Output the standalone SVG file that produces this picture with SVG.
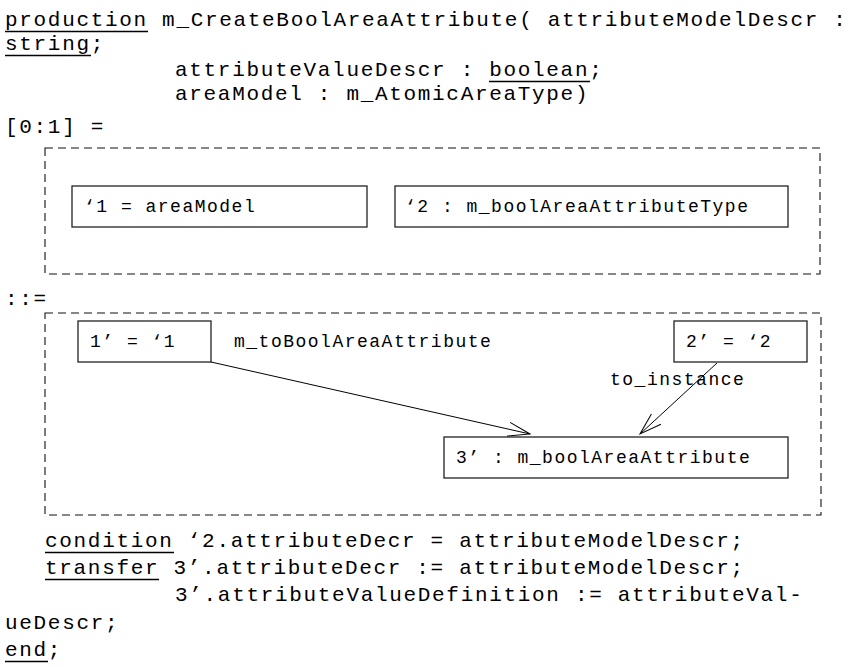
<svg xmlns="http://www.w3.org/2000/svg" width="851" height="667" viewBox="0 0 851 667">
  <style>
    text { font-family: "Liberation Mono", "DejaVu Sans Mono", monospace; fill: #000; }
    .code { font-size: 21px; letter-spacing: 1.68px; }
    .lbl { font-size: 18px; letter-spacing: 1.5px; }
    .frame { fill: none; stroke: #111; stroke-width: 1.1; stroke-dasharray: 8 5; }
    .node rect { fill: #fff; stroke: #222; stroke-width: 1.3; }
    .ul { stroke: #000; stroke-width: 1.3; }
    .edge { fill: none; stroke: #000; stroke-width: 1; marker-end: url(#open); }
  </style>
  <defs>
    <marker id="open" markerUnits="userSpaceOnUse" viewBox="-25 -10 30 20" markerWidth="30" markerHeight="20" refX="0" refY="0" orient="auto">
      <path d="M-22,-7 L0,0 L-22,7" fill="none" stroke="#000" stroke-width="1"/>
    </marker>
  </defs>

  <!-- production header -->
  <g id="header">
    <text class="code" x="5" y="26">production m_CreateBoolAreaAttribute( attributeModelDescr :</text>
    <line class="ul" x1="5" y1="31.5" x2="148" y2="31.5"/>
    <text class="code" x="5" y="50">string;</text>
    <line class="ul" x1="5" y1="55.5" x2="91" y2="55.5"/>
    <text class="code" x="175" y="76">attributeValueDescr : boolean;</text>
    <line class="ul" x1="489" y1="81.5" x2="590" y2="81.5"/>
    <text class="code" x="175" y="100">areaModel : m_AtomicAreaType)</text>
    <text class="code" x="5" y="133">[0:1] =</text>
  </g>

  <!-- left-hand side -->
  <rect class="frame" x="45" y="148" width="775" height="126"/>
  <g id="lhs1" class="node">
    <rect x="72" y="186" width="295" height="41"/>
    <text class="lbl" x="84" y="212">‘1 = areaModel</text>
  </g>
  <g id="lhs2" class="node">
    <rect x="395" y="186" width="393" height="41"/>
    <text class="lbl" x="405" y="212">‘2 : m_boolAreaAttributeType</text>
  </g>

  <text class="code" x="5" y="305">::=</text>

  <!-- right-hand side -->
  <rect class="frame" x="45" y="313" width="776" height="202"/>
  <g id="rhs1" class="node">
    <rect x="78" y="321" width="133" height="41"/>
    <text class="lbl" x="90" y="347">1’ = ‘1</text>
  </g>
  <g id="rhs2" class="node">
    <rect x="674" y="321" width="133" height="41"/>
    <text class="lbl" x="686" y="347">2’ = ‘2</text>
  </g>
  <g id="rhs3" class="node">
    <rect x="444" y="437" width="344" height="41"/>
    <text class="lbl" x="456" y="463">3’ : m_boolAreaAttribute</text>
  </g>

  <g id="connectors">
    <path class="edge" d="M211,362 L530,434"/>
    <path class="edge" d="M717,363 L640,434"/>
    <text class="lbl" x="234" y="347">m_toBoolAreaAttribute</text>
    <text class="lbl" x="610" y="385">to_instance</text>
  </g>

  <!-- condition / transfer -->
  <g id="footer">
    <text class="code" x="45" y="547">condition ‘2.attributeDecr = attributeModelDescr;</text>
    <line class="ul" x1="45" y1="552.5" x2="174" y2="552.5"/>
    <text class="code" x="45" y="574">transfer 3’.attributeDecr := attributeModelDescr;</text>
    <line class="ul" x1="45" y1="579.5" x2="159" y2="579.5"/>
    <text class="code" x="175" y="601">3’.attributeValueDefinition := attributeVal-</text>
    <text class="code" x="5" y="629">ueDescr;</text>
    <text class="code" x="5" y="656">end;</text>
    <line class="ul" x1="5" y1="661.5" x2="48" y2="661.5"/>
  </g>
</svg>
